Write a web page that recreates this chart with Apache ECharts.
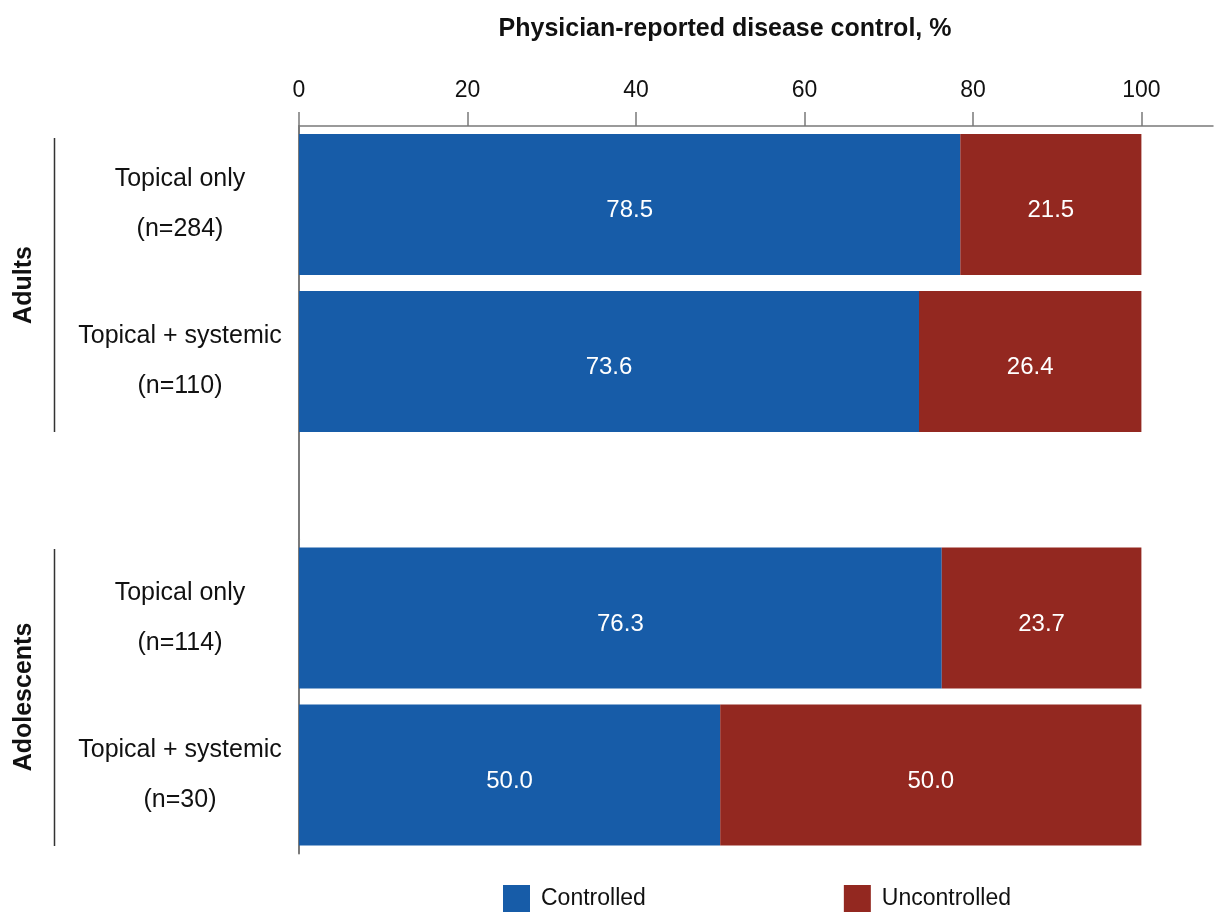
<!DOCTYPE html>
<html>
<head>
<meta charset="utf-8">
<script src="https://cdn.jsdelivr.net/npm/echarts@6/dist/echarts.min.js"></script>
<style>html,body{margin:0;padding:0;background:#fff}#c{width:1214px;height:912px}</style>
</head>
<body>
<div id="c"></div>
<script>
// ---- data ----
const groups = ['Adults', 'Adolescents'];
const adultCategories = ['Topical only\n(n=284)', 'Topical + systemic\n(n=110)'];
const adolCategories = ['Topical only\n(n=114)', 'Topical + systemic\n(n=30)'];
const adultControlled = [78.5, 73.6];
const adultUncontrolled = [21.5, 26.4];
const adolControlled = [76.3, 50.0];
const adolUncontrolled = [23.7, 50.0];
const xTicks = [0, 20, 40, 60, 80, 100];
const seriesNames = ['Controlled', 'Uncontrolled'];
const titleText = 'Physician-reported disease control, %';

// ---- style ----
const FONT = "'Liberation Sans', Arial, sans-serif";
const BLUE = '#175CA8';
const RED = '#932820';
const AXIS = '#7a7a7a';

const chart = echarts.init(document.getElementById('c'), null, {renderer: 'canvas'});

const catAxis = (cats, gi) => ({
  type: 'category', gridIndex: gi, data: cats, inverse: true,
  axisLine: {show: true, lineStyle: {color: AXIS, width: 2}},
  axisTick: {show: false},
  axisLabel: {fontFamily: FONT, fontSize: 25, color: '#111', align: 'center', margin: 119, lineHeight: 50, padding: [8, 0, 0, 0]}
});

const barLabel = {
  show: true, position: 'inside', color: '#fff', fontFamily: FONT, fontSize: 24, offset: [0, 6],
  formatter: p => Number(p.value).toFixed(1)
};

const mkSeries = (name, data, gi, stack, color) => ({
  name, type: 'bar', stack, xAxisIndex: gi, yAxisIndex: gi, data,
  barWidth: 141, itemStyle: {color}, label: barLabel, emphasis: {disabled: true}
});

chart.setOption({
  animation: false,
  title: {
    text: titleText, left: 720, top: 12, textAlign: 'center',
    textStyle: {fontFamily: FONT, fontSize: 25, fontWeight: 'bold', color: '#111'}
  },
  legend: {
    data: seriesNames, left: 498, top: 880, itemWidth: 27, itemHeight: 27, itemGap: 198,
    icon: 'rect', selectedMode: false,
    textStyle: {fontFamily: FONT, fontSize: 23, color: '#111', padding: [6, 0, 0, 6]}
  },
  grid: [
    {left: 299, right: 1, top: 126, height: 314},
    {left: 299, right: 1, top: 539.5, height: 314}
  ],
  xAxis: [
    {
      type: 'value', gridIndex: 0, position: 'top', min: 0, max: 108.5, interval: 20,
      axisLine: {show: true, lineStyle: {color: AXIS, width: 1.5}},
      axisTick: {show: true, length: 14, lineStyle: {color: AXIS, width: 1.5}, customValues: xTicks},
      axisLabel: {fontFamily: FONT, fontSize: 23, color: '#111', margin: 24, customValues: xTicks},
      splitLine: {show: false}
    },
    {type: 'value', gridIndex: 1, min: 0, max: 108.5, show: false, splitLine: {show: false}}
  ],
  yAxis: [catAxis(adultCategories, 0), catAxis(adolCategories, 1)],
  series: [
    mkSeries(seriesNames[0], adultControlled, 0, 'a', BLUE),
    mkSeries(seriesNames[1], adultUncontrolled, 0, 'a', RED),
    mkSeries(seriesNames[0], adolControlled, 1, 'b', BLUE),
    mkSeries(seriesNames[1], adolUncontrolled, 1, 'b', RED)
  ],
  graphic: [
    {type: 'line', shape: {x1: 299, y1: 440, x2: 299, y2: 539.5}, style: {stroke: AXIS, lineWidth: 2}},
    {type: 'line', shape: {x1: 54.5, y1: 138, x2: 54.5, y2: 432}, style: {stroke: '#333', lineWidth: 1.5}},
    {type: 'line', shape: {x1: 54.5, y1: 549, x2: 54.5, y2: 846}, style: {stroke: '#333', lineWidth: 1.5}},
    {type: 'text', x: 24, y: 285, rotation: Math.PI / 2,
     style: {text: groups[0], font: "bold 25px " + FONT, fill: '#111', align: 'center', verticalAlign: 'middle'}},
    {type: 'text', x: 24, y: 697, rotation: Math.PI / 2,
     style: {text: groups[1], font: "bold 25px " + FONT, fill: '#111', align: 'center', verticalAlign: 'middle'}}
  ]
});
</script>
</body>
</html>
